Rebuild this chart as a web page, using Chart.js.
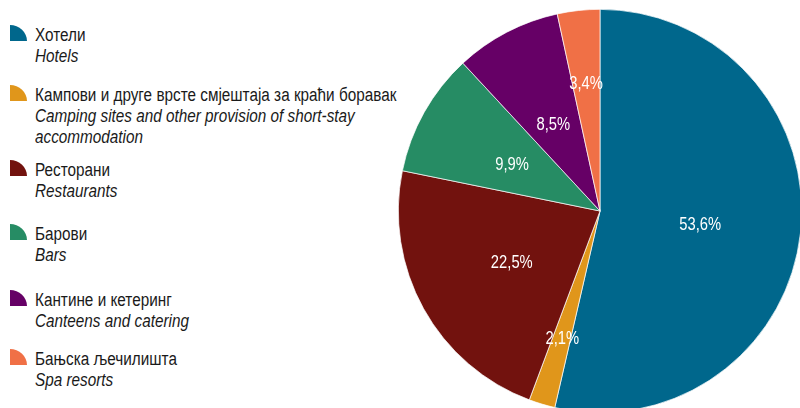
<!DOCTYPE html>
<html>
<head>
<meta charset="utf-8">
<script src="https://cdn.jsdelivr.net/npm/chart.js@4"></script>
<style>
    html, body {
        margin: 0;
        padding: 0;
        width: 800px;
        height: 408px;
        overflow: hidden;
        background: #ffffff;
        font-family: "Liberation Sans", Arial, sans-serif;
    }
    #legend {
        position: absolute;
        left: 10px;
        top: 0;
    }
    .item {
        position: absolute;
        left: 0;
        width: 400px;
    }
    .icon {
        position: absolute;
        left: 0;
        width: 17px;
        height: 16px;
        border-top-right-radius: 17px 16px;
    }
    .text {
        position: absolute;
        left: 25px;
        font-size: 18px;
        line-height: 21px;
        color: #1a1a1a;
        white-space: nowrap;
        transform: scaleX(0.85);
        transform-origin: left top;
    }
    .text i {
        display: block;
    }
    #pieWrap {
        position: absolute;
        left: 398px;
        top: 9px;
        width: 404px;
        height: 404px;
    }
</style>
</head>
<body>
<div id="legend"></div>
<div id="pieWrap"><canvas id="pieChart" width="404" height="404"></canvas></div>
<script>
const labelsSr = [
    'Хотели',
    'Кампови и друге врсте смјештаја за краћи боравак',
    'Ресторани',
    'Барови',
    'Кантине и кетеринг',
    'Бањска љечилишта'
];
const labelsEn = [
    ['Hotels'],
    ['Camping sites and other provision of short-stay', 'accommodation'],
    ['Restaurants'],
    ['Bars'],
    ['Canteens and catering'],
    ['Spa resorts']
];
const shares = [53.6, 2.1, 22.5, 9.9, 8.5, 3.4];
const colors = ['#00678c', '#e0961b', '#72120e', '#268c64', '#660066', '#f07046'];

// vertical slot of each legend entry
const legendTops = [25, 85, 160, 224, 290, 349];

const legendBox = document.getElementById('legend');
labelsSr.forEach((name, i) => {
    const item = document.createElement('div');
    item.className = 'item';
    item.style.top = legendTops[i] + 'px';
    item.innerHTML = `
        <div class="icon" style="background:${colors[i]}"></div>
        <div class="text" style="top:0px">${name}${labelsEn[i].map(t => `<i>${t}</i>`).join('')}</div>
    `;
    legendBox.appendChild(item);
});

// percentage labels written inside the slices
const sliceLabels = {
    id: 'sliceLabels',
    afterDatasetsDraw(chart) {
        const ctx = chart.ctx;
        const meta = chart.getDatasetMeta(0);
        ctx.save();
        ctx.fillStyle = '#ffffff';
        ctx.font = '18px "Liberation Sans", Arial, sans-serif';
        ctx.textAlign = 'center';
        ctx.textBaseline = 'middle';
        meta.data.forEach((arc, i) => {
            const p = arc.getProps(['x', 'y', 'startAngle', 'endAngle', 'outerRadius']);
            const mid = (p.startAngle + p.endAngle) / 2;
            const r = p.outerRadius * (shares[i] < 5 ? 0.65 : 0.5);
            const text = shares[i].toFixed(1).replace('.', ',') + '%';
            const tx = p.x + Math.cos(mid) * r;
            const ty = p.y + Math.sin(mid) * r + 3;
            ctx.save();
            ctx.translate(tx, ty);
            ctx.scale(0.82, 1);
            ctx.fillText(text, 0, 0);
            ctx.restore();
        });
        ctx.restore();
    }
};

new Chart(document.getElementById('pieChart'), {
    type: 'pie',
    data: {
        labels: labelsSr,
        datasets: [{
            data: shares,
            backgroundColor: colors,
            borderColor: '#ffffff',
            borderWidth: 0.7
        }]
    },
    options: {
        responsive: false,
        animation: false,
        layout: { padding: 0 },
        plugins: {
            legend: { display: false },
            tooltip: { enabled: false }
        }
    },
    plugins: [sliceLabels]
});
</script>
</body>
</html>
